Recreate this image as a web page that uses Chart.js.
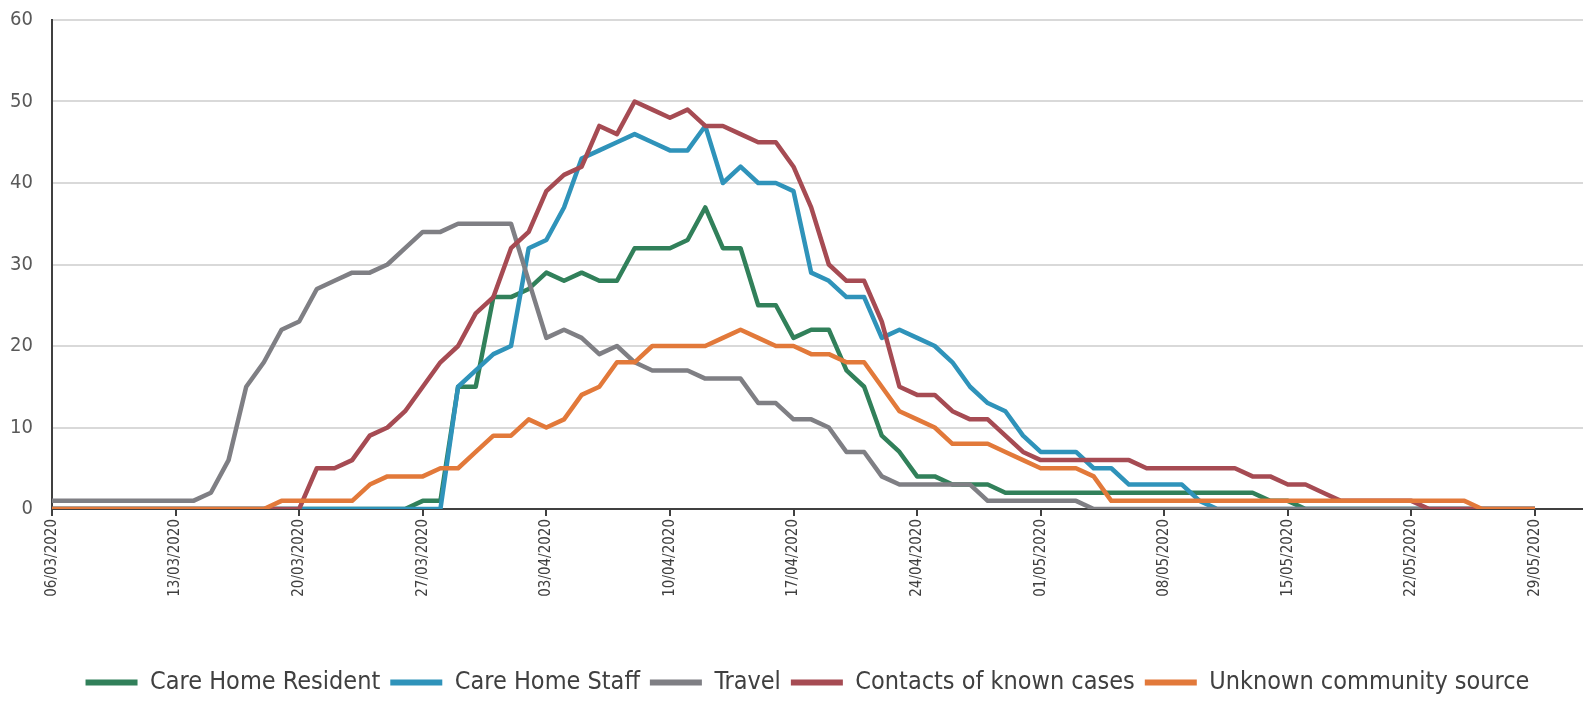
<!DOCTYPE html>
<html>
<head>
<meta charset="utf-8">
<title>Cases by source</title>
<script src="https://cdn.jsdelivr.net/npm/chart.js@4.4.1/dist/chart.umd.min.js"></script>
<style>
	html, body { margin: 0; padding: 0; background: #ffffff; }
	#wrap { width: 1583px; height: 703px; }
</style>
</head>
<body>
<div id="wrap"><canvas id="LineChart" width="1583" height="703"></canvas></div>
<script>
	// categories: one label per day, 06/03/2020 .. 01/06/2020
	var startDay = Date.UTC(2020, 2, 6);
	var dayCount = 88;
	var dates = [];
	for (var i = 0; i < dayCount; i++) {
		var d = new Date(startDay + i * 86400000);
		var dd = ('0' + d.getUTCDate()).slice(-2);
		var mm = ('0' + (d.getUTCMonth() + 1)).slice(-2);
		dates.push(dd + '/' + mm + '/' + d.getUTCFullYear());
	}

	// series values, 06/03 .. 29/05
	var careHomeResident = [0,0,0,0,0,0,0,0,0,0,0,0,0,0,0,0,0,0,0,0,0,
		1,1,15,15,26,26,27,29,28,29,28,28,32,32,32,33,37,32,32,25,25,21,22,22,17,15,9,7,4,4,3,3,3,
		2,2,2,2,2,2,2,2,2,2,2,2,2,2,2,1,1,
		0,0,0,0,0,0,0,0,0,0,0,0,0,0];
	var careHomeStaff = [0,0,0,0,0,0,0,0,0,0,0,0,0,0,0,0,0,0,0,0,0,0,0,
		15,17,19,20,32,33,37,43,44,45,46,45,44,44,47,40,42,40,40,39,29,28,26,26,21,22,21,20,18,15,13,12,9,7,7,7,5,5,3,3,3,3,1,
		0,0,0,0,0,0,0,0,0,0,0,0,0,0,0,0,0,0,0];
	var travel = [1,1,1,1,1,1,1,1,1,2,6,15,18,22,23,27,28,29,29,30,32,34,34,35,35,35,35,28,21,22,21,19,20,18,17,17,17,16,16,16,13,13,11,11,10,7,7,4,3,3,3,3,3,1,1,1,1,1,1,
		0,0,0,0,0,0,0,0,0,0,0,0,0,0,0,0,0,0,0,0,0,0,0,0,0,0];
	var contactsKnown = [0,0,0,0,0,0,0,0,0,0,0,0,0,0,0,
		5,5,6,9,10,12,15,18,20,24,26,32,34,39,41,42,47,46,50,49,48,49,47,47,46,45,45,42,37,30,28,28,23,15,14,14,12,11,11,9,7,
		6,6,6,6,6,6,5,5,5,5,5,5,4,4,3,3,2,1,1,1,1,1,
		0,0,0,0,0,0,0];
	var unknownCommunity = [0,0,0,0,0,0,0,0,0,0,0,0,0,
		1,1,1,1,1,3,4,4,4,5,5,7,9,9,11,10,11,14,15,18,18,20,20,20,20,21,22,21,20,20,19,19,18,18,15,12,11,10,8,8,8,7,6,5,5,5,4,
		1,1,1,1,1,1,1,1,1,1,1,1,1,1,1,1,1,1,1,1,1,
		0,0,0,0];

	var seriesNames = ['Care Home Resident', 'Care Home Staff', 'Travel', 'Contacts of known cases', 'Unknown community source'];
	var seriesColors = ['#31805a', '#2f93ba', '#7f7f84', '#a64b53', '#e2793a'];
	var seriesValues = [careHomeResident, careHomeStaff, travel, contactsKnown, unknownCommunity];

	// y axis tick labels
	var yTicks = [0, 10, 20, 30, 40, 50, 60];

	var fontFamily = '"Liberation Sans Narrow", "DejaVu Sans Condensed", "Liberation Sans", sans-serif';

	var datasets = [];
	for (var s = 0; s < seriesNames.length; s++) {
		datasets.push({
			label: seriesNames[s],
			data: seriesValues[s],
			borderColor: seriesColors[s],
			backgroundColor: seriesColors[s],
			borderWidth: 4.5,
			borderJoinStyle: 'round',
			pointRadius: 0,
			tension: 0,
			fill: false,
			order: seriesNames.length - 1 - s   // later series drawn on top, like the original
		});
	}

	// small nudges after layout: plot runs a few px past the canvas edge, legend sits a bit left/lower
	var nudgePlugin = {
		id: 'nudge',
		afterLayout: function(chart) {
			var x = chart.scales.x;
			x.right += 5;
			x.width += 5;
			x.configure();
			chart.chartArea.right += 5;
			chart.chartArea.width += 5;

			var lg = chart.legend;
			lg.left -= 10;
			lg.right -= 10;
			lg.top += 2;
			lg.bottom += 2;
		}
	};

	var ctx = document.getElementById('LineChart').getContext('2d');
	var chart = new Chart(ctx, {
		type: 'line',
		data: {
			labels: dates,
			datasets: datasets
		},
		plugins: [nudgePlugin],
		options: {
			responsive: false,
			animation: false,
			layout: { padding: { top: 20, right: 0, bottom: 0, left: 0 } },
			plugins: {
				tooltip: { enabled: false },
				legend: {
					display: true,
					position: 'bottom',
					fullSize: false,
					labels: {
						usePointStyle: true,
						pointStyle: 'line',
						pointStyleWidth: 52,
						padding: 10,
						color: '#404040',
						font: { family: fontFamily, size: 25 },
						generateLabels: function(chart) {
							var items = Chart.defaults.plugins.legend.labels.generateLabels(chart);
							items.forEach(function(it) { it.lineWidth = 6; });
							return items;
						},
						sort: function(a, b) { return a.datasetIndex - b.datasetIndex; }
					}
				}
			},
			scales: {
				x: {
					type: 'category',
					offset: false,
					afterFit: function(scale) {
						scale.height = 149;
						// no room kept for the (empty) end labels
						scale.paddingLeft = 0;
						scale.paddingRight = 0;
					},
					border: { display: true, color: '#404040', width: 2 },
					grid: {
						drawOnChartArea: false,
						drawTicks: true,
						tickLength: 7,
						lineWidth: 2,
						color: function(c) { return c.index % 7 === 0 ? '#404040' : 'rgba(0,0,0,0)'; }
					},
					ticks: {
						autoSkip: false,
						maxRotation: 90,
						minRotation: 90,
						padding: 3,
						color: '#404040',
						font: { family: fontFamily, size: 15 },
						callback: function(value, index) {
							return index % 7 === 0 ? dates[index] : '';
						}
					}
				},
				y: {
					min: yTicks[0],
					max: yTicks[yTicks.length - 1],
					afterFit: function(scale) {
						scale.width = 52;
						scale.paddingTop = 0;
						scale.paddingBottom = 0;
					},
					afterBuildTicks: function(scale) {
						scale.ticks = yTicks.map(function(v) { return { value: v }; });
					},
					border: { display: true, color: '#404040', width: 2 },
					grid: {
						drawTicks: false,
						color: '#d9d9d9',
						lineWidth: 2
					},
					ticks: {
						padding: 19,
						color: '#595959',
						font: { family: fontFamily, size: 20 }
					}
				}
			}
		}
	});
</script>
</body>
</html>
